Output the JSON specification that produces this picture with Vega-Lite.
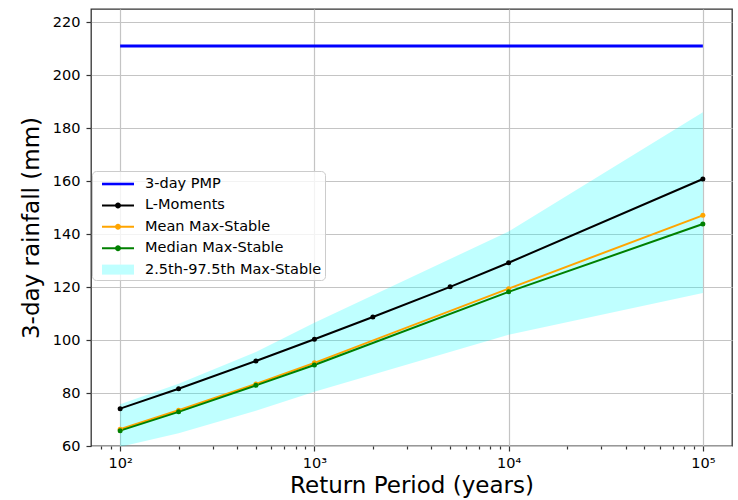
{
  "$schema": "https://vega.github.io/schema/vega-lite/v6.json",
  "width": 641,
  "height": 437,
  "autosize": "none",
  "padding": {"left": 91, "top": 9, "right": 6, "bottom": 54},
  "background": "white",
  "datasets": {
    "lines": [
      {"series": "3-day PMP", "period": 100, "value": 211},
      {"series": "3-day PMP", "period": 100000, "value": 211},
      {"series": "L-Moments", "period": 100, "value": 74.1},
      {"series": "L-Moments", "period": 200, "value": 81.6},
      {"series": "L-Moments", "period": 500, "value": 92.1},
      {"series": "L-Moments", "period": 1000, "value": 100.3},
      {"series": "L-Moments", "period": 2000, "value": 108.7},
      {"series": "L-Moments", "period": 5000, "value": 120.1},
      {"series": "L-Moments", "period": 10000, "value": 129.2},
      {"series": "L-Moments", "period": 100000, "value": 160.8},
      {"series": "Mean Max-Stable", "period": 100, "value": 66.3},
      {"series": "Mean Max-Stable", "period": 200, "value": 73.5},
      {"series": "Mean Max-Stable", "period": 500, "value": 83.4},
      {"series": "Mean Max-Stable", "period": 1000, "value": 91.4},
      {"series": "Mean Max-Stable", "period": 10000, "value": 119.4},
      {"series": "Mean Max-Stable", "period": 100000, "value": 147.1},
      {"series": "Median Max-Stable", "period": 100, "value": 65.8},
      {"series": "Median Max-Stable", "period": 200, "value": 72.9},
      {"series": "Median Max-Stable", "period": 500, "value": 82.9},
      {"series": "Median Max-Stable", "period": 1000, "value": 90.6},
      {"series": "Median Max-Stable", "period": 10000, "value": 118.2},
      {"series": "Median Max-Stable", "period": 100000, "value": 143.8}
    ],
    "band": [
      {"period": 100, "lo": 59.7, "hi": 75.8},
      {"period": 200, "lo": 64.8, "hi": 83.5},
      {"period": 500, "lo": 73.3, "hi": 95.5},
      {"period": 1000, "lo": 80.5, "hi": 106.5},
      {"period": 10000, "lo": 102.0, "hi": 141.0},
      {"period": 100000, "lo": 117.8, "hi": 186.0}
    ]
  },
  "layer": [
    {
      "data": {"name": "band"},
      "mark": {"type": "area", "color": "#00ffff", "opacity": 0.25, "clip": true},
      "encoding": {
        "x": {
          "field": "period",
          "type": "quantitative",
          "scale": {"type": "log", "domain": [70.79, 141254], "nice": false},
          "axis": {
            "title": "Return Period (years)",
            "values": [80, 90, 100, 200, 300, 400, 500, 600, 700, 800, 900, 1000, 2000, 3000, 4000, 5000, 6000, 7000, 8000, 9000, 10000, 20000, 30000, 40000, 50000, 60000, 70000, 80000, 90000, 100000],
            "labelExpr": "datum.value == 100 ? '10²' : datum.value == 1000 ? '10³' : datum.value == 10000 ? '10⁴' : datum.value == 100000 ? '10⁵' : ''",
            "labelFlush": false,
            "labelOverlap": false,
            "labelPadding": 5,
            "tickSize": {"condition": {"test": "indexof([100, 1000, 10000, 100000], datum.value) >= 0", "value": 5}, "value": 3},
            "gridOpacity": {"condition": {"test": "indexof([100, 1000, 10000, 100000], datum.value) >= 0", "value": 1}, "value": 0},
            "titleY": 46,
            "titleBaseline": "alphabetic"
          }
        },
        "y": {
          "field": "lo",
          "type": "quantitative",
          "scale": {"domain": [60, 225], "nice": false, "zero": false},
          "axis": {
            "title": "3-day rainfall (mm)",
            "values": [60, 80, 100, 120, 140, 160, 180, 200, 220],
            "tickSize": 5,
            "labelPadding": 6,
            "titleAngle": 270,
            "titleX": -53,
            "titleBaseline": "alphabetic"
          }
        },
        "y2": {"field": "hi"}
      }
    },
    {
      "data": {"name": "lines"},
      "mark": {"type": "line"},
      "encoding": {
        "x": {"field": "period", "type": "quantitative"},
        "y": {"field": "value", "type": "quantitative"},
        "color": {
          "field": "series",
          "type": "nominal",
          "scale": {
            "domain": ["3-day PMP", "L-Moments", "Mean Max-Stable", "Median Max-Stable", "2.5th-97.5th Max-Stable"],
            "range": ["#0000ff", "#000000", "#ffa500", "#008000", "#bfffff"]
          },
          "legend": {
            "title": null,
            "orient": "none",
            "legendX": 1,
            "legendY": 162,
            "encode": {
              "symbols": {
                "update": {
                  "shape": {"signal": "datum.value === '3-day PMP' ? 'M-1.6,-0.13H1.6V0.13H-1.6Z' : datum.value === '2.5th-97.5th Max-Stable' ? 'M-1.6,-0.5H1.6V0.5H-1.6Z' : 'M-1.6,-0.1H-0.28V0.1H-1.6Z M0.28,-0.1H1.6V0.1H0.28Z M-0.3,0A0.3,0.3 0 1,1 0.3,0A0.3,0.3 0 1,1 -0.3,0Z'"},
                  "fill": {"scale": "color", "field": "value"},
                  "stroke": {"value": "transparent"},
                  "strokeWidth": {"value": 0},
                  "opacity": {"value": 1},
                  "fillOpacity": {"value": 1},
                  "size": {"value": 400}
                }
              }
            }
          }
        },
        "strokeWidth": {"condition": {"test": "datum.series === '3-day PMP'", "value": 3}, "value": 2}
      }
    },
    {
      "data": {"name": "lines"},
      "transform": [{"filter": "datum.series !== '3-day PMP'"}],
      "mark": {"type": "point", "filled": true, "opacity": 1, "size": 25},
      "encoding": {
        "x": {"field": "period", "type": "quantitative"},
        "y": {"field": "value", "type": "quantitative"},
        "color": {"field": "series", "type": "nominal"}
      }
    }
  ],
  "config": {
    "font": "DejaVu Sans",
    "view": {"stroke": "#333333", "strokeWidth": 1.3},
    "axis": {
      "domain": false,
      "labelFont": "DejaVu Sans",
      "labelFontSize": 14.5,
      "labelColor": "#000000",
      "titleFont": "DejaVu Sans",
      "titleFontSize": 23,
      "titleFontWeight": "normal",
      "titleColor": "#000000",
      "tickColor": "#333333",
      "tickWidth": 1.2,
      "grid": true,
      "gridColor": "#c4c4c4",
      "gridWidth": 1.2
    },
    "legend": {
      "labelFont": "DejaVu Sans",
      "labelFontSize": 14.5,
      "labelColor": "#000000",
      "labelLimit": 400,
      "padding": 3,
      "symbolOffset": 13,
      "labelOffset": 17,
      "rowPadding": 4.4,
      "symbolSize": 400,
      "fillColor": "rgba(255,255,255,0.8)",
      "strokeColor": "#cccccc",
      "cornerRadius": 4
    }
  }
}
